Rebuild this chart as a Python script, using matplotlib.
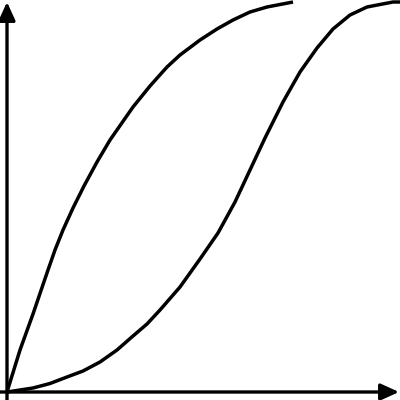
import matplotlib
matplotlib.use("Agg")
import matplotlib.pyplot as plt

# Кривые
x_fast = [0, 13, 26, 41, 48, 56, 66, 77, 90, 103, 126, 143, 160, 173, 193, 210, 226,
          243, 260, 286]
y_fast = [0, 42, 78, 122, 142, 162, 184, 206, 230, 252, 285, 306, 325, 337, 352, 363, 372,
          380, 385, 390]

x_slow = [0, 26, 43, 60, 76, 93, 110, 126, 140, 153, 173, 193, 211, 228, 243, 258, 276,
          293, 310, 326, 343, 360, 386, 393]
y_slow = [0, 4, 8.5, 15, 21, 30, 42, 56, 68, 82, 105, 133, 159, 190, 222, 254, 290,
          320, 344, 363, 377, 385, 390, 390]

fig = plt.figure(figsize=(4, 4), dpi=100)
ax = fig.add_axes([0, 0, 1, 1])
ax.set_xlim(-7, 393)
ax.set_ylim(-8, 392)
ax.axis("off")

# Оси со стрелками
arrow = dict(arrowstyle="-|>,head_length=0.55,head_width=0.25", lw=2.4,
             color="black", mutation_scale=20, shrinkA=0, shrinkB=0)
ax.annotate("", xy=(0, 390), xytext=(0, -8), arrowprops=arrow)
ax.annotate("", xy=(392, 0), xytext=(-7, 0), arrowprops=arrow)

ax.plot(x_fast, y_fast, color="black", lw=2.5, solid_capstyle="butt", solid_joinstyle="round")
ax.plot(x_slow, y_slow, color="black", lw=2.5, solid_capstyle="butt", solid_joinstyle="round")

fig.savefig("out.png", dpi=100, facecolor="white")
